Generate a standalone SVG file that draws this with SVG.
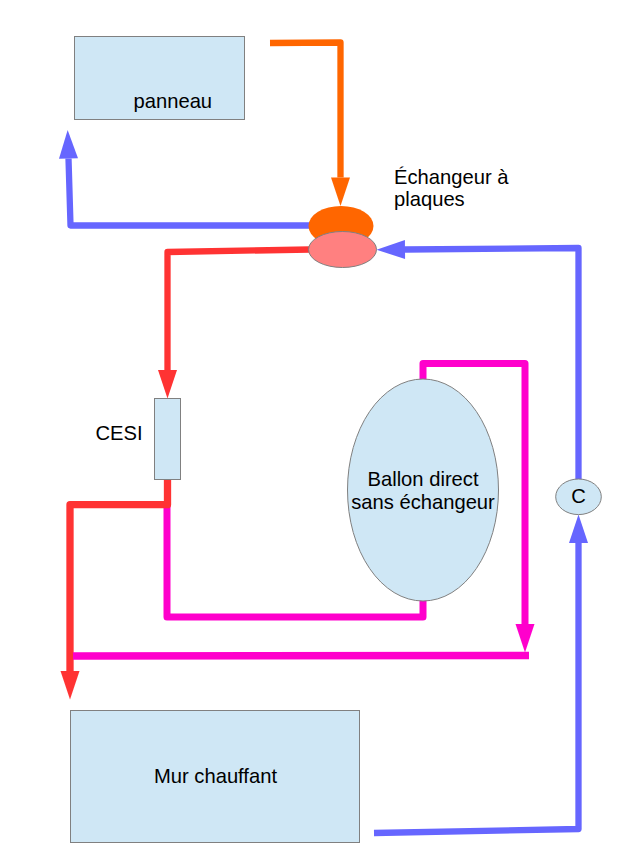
<svg xmlns="http://www.w3.org/2000/svg" width="622" height="868" viewBox="0 0 622 868">
<style>
.box{fill:#cfe7f5;stroke:#808080;stroke-width:1}
text{font-family:"Liberation Sans",Arial,sans-serif;font-size:20.2px;fill:#000}
.c{text-anchor:middle}
.w{fill:none;stroke-width:6.300;stroke-linejoin:round}
.or{stroke:#ff6600}.bl{stroke:#6666ff}.re{stroke:#ff3333}.ma{stroke:#ff00cc;stroke-width:7}
</style>
<defs>
<marker id="a-or" markerUnits="userSpaceOnUse" orient="auto" refX="0" refY="10" markerWidth="29" markerHeight="20" overflow="visible"><path d="M0 .5L28.500 10L0 19.500z" fill="#ff6600"/></marker>
<marker id="a-bl" markerUnits="userSpaceOnUse" orient="auto" refX="0" refY="10" markerWidth="29" markerHeight="20" overflow="visible"><path d="M0 .5L28.500 10L0 19.500z" fill="#6666ff"/></marker>
<marker id="a-re" markerUnits="userSpaceOnUse" orient="auto" refX="0" refY="10" markerWidth="29" markerHeight="20" overflow="visible"><path d="M0 .5L28.500 10L0 19.500z" fill="#ff3333"/></marker>
<marker id="a-ma" markerUnits="userSpaceOnUse" orient="auto" refX="0" refY="10" markerWidth="29" markerHeight="20" overflow="visible"><path d="M0 .5L28.500 10L0 19.500z" fill="#ff00cc"/></marker>
</defs>
<g id="connectors">
<path class="w or" d="M270 43L340.500 42.500L340.500 177.500" marker-end="url(#a-or)"/>
<path class="w bl" d="M310 225.500L70.500 225.500L68.500 158.500" marker-end="url(#a-bl)"/>
<path class="w re" d="M310 249.500L167.500 252L167.500 370" marker-end="url(#a-re)"/>
<path class="w ma" d="M167 505L167 617L423 617L423 598"/>
<path class="w re" d="M167.500 479L167.500 504.700L70 504.700L70 671" marker-end="url(#a-re)" style="stroke-width:7.300"/>
<path class="w ma" d="M423 382L423 363.500L525 363.500L525 624" marker-end="url(#a-ma)"/>
<path class="w ma" d="M73 656L529 655.500" style="stroke-width:7.500"/>
<path class="w bl" d="M578.500 482L578.500 248L405 249.500" marker-end="url(#a-bl)"/>
<path class="w bl" d="M374 833L578.500 829L578.500 543" marker-end="url(#a-bl)"/>
</g>
<g id="panneau"><rect class="box" x="74.500" y="36.500" width="170" height="83"/><text x="133.500" y="107.500">panneau</text></g>
<g id="echangeur-haut"><ellipse cx="341" cy="226" rx="32.500" ry="20" fill="#ff6600"/></g>
<g id="echangeur-bas"><ellipse cx="342.500" cy="249.500" rx="34" ry="18" fill="#ff8080" stroke="#808080"/></g>
<g id="echangeur-label"><text x="394" y="184">Échangeur à</text><text x="394" y="206">plaques</text></g>
<g id="cesi"><rect class="box" x="154.500" y="398.500" width="26" height="81"/><text x="95.500" y="440">CESI</text></g>
<g id="ballon"><ellipse class="box" cx="423" cy="490" rx="75.500" ry="111"/><text class="c" x="423" y="486">Ballon direct</text><text class="c" x="423" y="508.500">sans échangeur</text></g>
<g id="circulateur"><ellipse class="box" cx="578.500" cy="496.800" rx="22.800" ry="17.800"/><text class="c" x="578.500" y="503">C</text></g>
<g id="mur"><rect class="box" x="70.500" y="710.500" width="289" height="132"/><text class="c" x="215.500" y="783">Mur chauffant</text></g>
</svg>
